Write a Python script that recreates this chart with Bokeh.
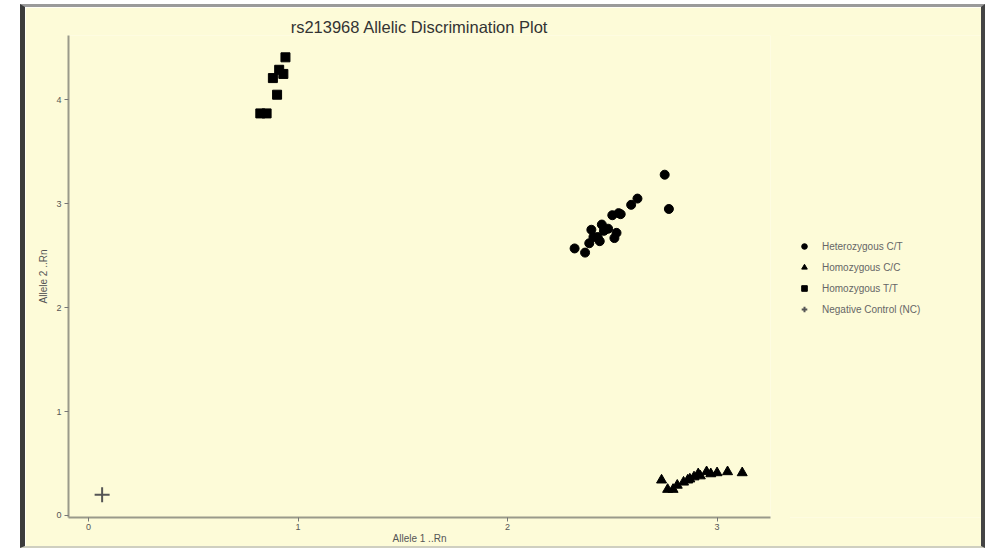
from bokeh.plotting import figure
from bokeh.models import Range1d, Legend, LegendItem, FixedTicker
from bokeh.layouts import row
from bokeh.embed import file_html
from bokeh.resources import INLINE

# ---- data ----
het_x = [2.32, 2.37, 2.39, 2.40, 2.41, 2.43, 2.45, 2.46, 2.48, 2.50, 2.52, 2.53, 2.54, 2.59, 2.62, 2.75, 2.77, 2.44, 2.51]
het_y = [2.57, 2.53, 2.62, 2.75, 2.68, 2.68, 2.80, 2.74, 2.76, 2.89, 2.72, 2.91, 2.90, 2.99, 3.05, 3.28, 2.95, 2.64, 2.67]

hom_cc_x = [2.735, 2.764, 2.79, 2.81, 2.84, 2.86, 2.87, 2.89, 2.91, 2.92, 2.95, 2.97, 3.00, 3.05, 3.12]
hom_cc_y = [0.34, 0.25, 0.25, 0.29, 0.32, 0.34, 0.35, 0.37, 0.40, 0.38, 0.42, 0.40, 0.41, 0.42, 0.41]

hom_tt_x = [0.94, 0.91, 0.93, 0.88, 0.90, 0.82, 0.85]
hom_tt_y = [4.41, 4.29, 4.25, 4.21, 4.05, 3.87, 3.87]

nc_x = [0.065]
nc_y = [0.20]

x_ticks = [0, 1, 2, 3]
y_ticks = [0, 1, 2, 3, 4]

title_text = "rs213968 Allelic Discrimination Plot"
x_label = "Allele 1 ..Rn"
y_label = "Allele 2 ..Rn"
legend_labels = ["Heterozygous C/T", "Homozygous C/C", "Homozygous T/T", "Negative Control (NC)"]

BG = "#FDFBD8"
FONT = "Liberation Sans"

# ---- main plot ----
p = figure(width=770, height=544, output_backend="svg", toolbar_location=None,
           x_range=Range1d(-0.0955, 3.255), y_range=Range1d(-0.02, 4.62),
           min_border_left=43, min_border_right=25, min_border_top=28, min_border_bottom=34,
           background_fill_color=BG, border_fill_color=BG, outline_line_color=None,
           title=title_text)
p.margin = (4, 0, 0, 20)
p.styles = {"border-left": "5px solid #3c3c3c", "border-top": "3px solid #9a9a9a",
            "border-bottom": "2px solid #cfcfc0"}

p.title.text_font = FONT
p.title.text_font_size = "16.5px"
p.title.text_font_style = "normal"
p.title.text_color = "#333333"
p.title.align = "center"
p.title.standoff = 0

p.grid.visible = False
for ax in (p.xaxis[0], p.yaxis[0]):
    ax.axis_line_color = "#9a9a8a"
    ax.axis_line_width = 2
    ax.major_tick_line_color = "#777777"
    ax.major_tick_in = 0
    ax.major_tick_out = 4
    ax.minor_tick_line_color = None
    ax.major_label_text_font = FONT
    ax.major_label_text_font_size = "9px"
    ax.major_label_text_color = "#555555"
    ax.axis_label_text_font = FONT
    ax.axis_label_text_font_size = "10px"
    ax.axis_label_text_font_style = "normal"
    ax.axis_label_text_color = "#555555"
    ax.major_label_standoff = 3
    ax.axis_label_standoff = 4
p.xaxis.axis_label_standoff = 0
p.xaxis.major_label_standoff = 2

p.xaxis.ticker = FixedTicker(ticks=x_ticks)
p.yaxis.ticker = FixedTicker(ticks=y_ticks)
p.xaxis.axis_label = x_label
p.yaxis.axis_label = y_label

MK = [dict(marker="circle", size=9, color="black"),
      dict(marker="triangle", size=10, color="black"),
      dict(marker="square", size=9, color="black"),
      dict(marker="cross", size=15, line_color="#555555", line_width=2)]

p.scatter(het_x, het_y, **MK[0])
p.scatter(hom_cc_x, hom_cc_y, **MK[1])
p.scatter(hom_tt_x, hom_tt_y, **MK[2])
p.scatter(nc_x, nc_y, **MK[3])

# ---- legend panel ----
q = figure(width=196, height=544, output_backend="svg", toolbar_location=None,
           x_range=Range1d(0, 1), y_range=Range1d(0, 1), x_axis_type=None, y_axis_type=None,
           min_border=0, background_fill_color=BG, border_fill_color=BG, outline_line_color=None)
q.margin = (4, 0, 0, -1)
q.styles = {"border-right": "4px solid #444444", "border-top": "3px solid #9a9a9a",
            "border-bottom": "2px solid #cfcfc0"}
q.grid.visible = False
# legend-only renderers, placed outside the visible range
rs = [q.scatter([-5], [-5], **MK[i]) for i in range(4)]

legend = Legend(items=[LegendItem(label=legend_labels[i], renderers=[rs[i]]) for i in range(4)],
                location=(8, 198), background_fill_alpha=0, border_line_color=None,
                label_text_font=FONT, label_text_font_size="10px", label_text_color="#666666",
                glyph_height=20, glyph_width=14, label_height=20, spacing=1, margin=0, padding=4,
                label_standoff=11)
q.add_layout(legend, "center")

layout = row(p, q)
open("out.html", "w").write(file_html(layout, INLINE))
